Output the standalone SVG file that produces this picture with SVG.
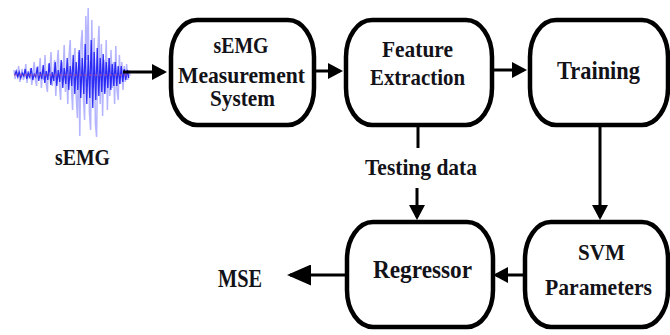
<svg xmlns="http://www.w3.org/2000/svg" width="670" height="335" viewBox="0 0 670 335">
  <style>
    .box { fill: #ffffff; stroke: #000000; stroke-width: 4.5; }
    .lbl { font-family: 'Liberation Serif', 'Times New Roman', serif; font-weight: bold; font-size: 24px; fill: #121218; text-anchor: middle; }
    .wire { fill: none; stroke: #000000; stroke-width: 3; }
  </style>
  <defs>
    <marker id="head" viewBox="0 0 15 16" markerWidth="15" markerHeight="16" refX="12" refY="8" orient="auto" markerUnits="userSpaceOnUse">
      <path d="M0,0 L15,8 L0,16 Z" fill="#000000"/>
    </marker>
    <marker id="headBig" viewBox="0 0 24 21" markerWidth="24" markerHeight="21" refX="21" refY="10.5" orient="auto" markerUnits="userSpaceOnUse">
      <path d="M0,0 L24,10.5 L0,21 Z" fill="#000000"/>
    </marker>
    <filter id="soft" x="-10%" y="-10%" width="120%" height="120%">
      <feGaussianBlur stdDeviation="0.7"/>
    </filter>
  </defs>

  <!-- raw sEMG trace: light spikes, dense core, dashed baseline -->
  <g id="signal" filter="url(#soft)">
    <polyline fill="none" stroke="#5a5aff" stroke-opacity="0.45" stroke-width="1.5"
      points="14,70 15,79 16.2,72 17.4,77 18.6,66 19.8,82 21,74 22.2,69 23.4,80 24.6,75 25.8,64 27,83 28.2,71 29.4,78 30.6,68 31.8,85 33,73 34.2,62 35.4,80 36.6,86 37.8,66 39,74 40.2,58 41.4,88 42.6,70 43.8,80 45,55 46.2,84 47.4,92 48.6,64 49.8,72 51,52 52.2,86 53.4,76 54.6,60 55.8,96 57,66 58.2,50 59.4,84 60.6,100 61.8,62 63,74 64.2,45 65.4,92 66.6,70 67.8,104 69,56 70.2,40 71.4,86 72.6,110 73.8,60 75,48 76.2,96 77.4,118 78.6,52 79.8,136 81,44 82.2,30 83.4,98 84.6,120 85.8,16 87,60 88.2,8 89.4,112 90.6,130 91.8,20 93,88 94.2,38 95.4,124 96.6,137 97.8,50 99,26 100.2,104 101.4,44 102.6,116 103.8,60 105,92 106.2,40 107.4,110 108.6,58 109.8,96 111,50 112.2,88 113.4,62 114.6,104 115.8,46 117,90 118.2,100 119.4,55 120.6,84 121.8,62 123,90 124.2,66 125.4,82 126.6,64 127.8,80 129,70 130,76"/>
    <polyline fill="none" stroke="#1212f2" stroke-opacity="0.85" stroke-width="1.3"
      points="14.8,75 16.2,71 17.8,77 19.2,72 20.8,78 22.2,73 23.8,76 25.2,69 26.8,79 28.2,73 29.8,77 31.2,68 32.8,80 34.2,74 35.8,77 37.2,67 38.8,81 40.2,72 41.8,79 43.2,65 44.8,83 46.2,71 47.8,80 49.2,63 50.8,85 52.2,72 53.8,81 55.2,62 56.8,86 58.2,70 59.8,82 61.2,60 62.8,88 64.2,68 65.8,84 67.2,58 68.8,90 70.2,66 71.8,86 73.2,55 74.8,94 76.2,62 77.8,90 79.2,50 80.8,98 82.2,58 83.8,94 85.2,44 86.8,104 88.2,55 89.8,98 91.2,40 92.8,108 94.2,52 95.8,100 97.2,48 98.8,96 100.2,58 101.8,92 103.2,54 104.8,94 106.2,62 107.8,88 109.2,58 110.8,90 112.2,64 113.8,86 115.2,62 116.8,86 118.2,66 119.8,84 121.2,66 122.8,82 124.2,69 125.8,80 127.2,70 128.8,78"/>
    <line x1="14" y1="75" x2="128" y2="75" stroke="#b050a0" stroke-width="1" stroke-dasharray="3 2"/>
  </g>

  <!-- connectors -->
  <g id="connectors">
    <path class="wire" d="M123,72 L164,72" marker-end="url(#head)"/>
    <path class="wire" d="M316,71 L340,71" marker-end="url(#head)"/>
    <path class="wire" d="M494,70 L524,70" marker-end="url(#head)"/>
    <path class="wire" d="M418,127 L418,148"/>
    <path class="wire" d="M417,188 L417,217" marker-end="url(#head)"/>
    <path class="wire" d="M600,127 L600,217" marker-end="url(#head)"/>
    <path class="wire" d="M524,275 L496,275" marker-end="url(#head)"/>
    <path class="wire" d="M346,275 L290,275" marker-end="url(#headBig)"/>
  </g>

  <g id="node-semg-label">
    <text class="lbl" x="82.5" y="165" textLength="55" lengthAdjust="spacingAndGlyphs">sEMG</text>
  </g>

  <g id="node-measurement">
    <rect class="box" x="171" y="20" width="143" height="105" rx="26" ry="37"/>
    <text class="lbl" x="241" y="53" style="font-size:23px" textLength="55" lengthAdjust="spacingAndGlyphs">sEMG</text>
    <text class="lbl" x="241.5" y="83" style="font-size:23px" textLength="127" lengthAdjust="spacingAndGlyphs">Measurement</text>
    <text class="lbl" x="242.5" y="106" style="font-size:23px" textLength="65" lengthAdjust="spacingAndGlyphs">System</text>
  </g>

  <g id="node-feature">
    <rect class="box" x="346" y="20" width="146" height="105" rx="26" ry="37"/>
    <text class="lbl" x="417.5" y="57" textLength="71" lengthAdjust="spacingAndGlyphs">Feature</text>
    <text class="lbl" x="417.5" y="85" textLength="95" lengthAdjust="spacingAndGlyphs">Extraction</text>
  </g>

  <g id="node-training">
    <rect class="box" x="530" y="20" width="138" height="105" rx="26" ry="37"/>
    <text class="lbl" x="598.5" y="79" style="font-size:25px" textLength="83" lengthAdjust="spacingAndGlyphs">Training</text>
  </g>

  <g id="node-testing">
    <text class="lbl" x="421" y="175" textLength="112" lengthAdjust="spacingAndGlyphs">Testing data</text>
  </g>

  <g id="node-regressor">
    <rect class="box" x="347" y="222" width="146" height="105" rx="26" ry="37"/>
    <text class="lbl" x="422.5" y="278" style="font-size:25px" textLength="99" lengthAdjust="spacingAndGlyphs">Regressor</text>
  </g>

  <g id="node-svm">
    <rect class="box" x="525" y="222" width="143" height="105" rx="26" ry="37"/>
    <text class="lbl" x="601.5" y="260" textLength="47" lengthAdjust="spacingAndGlyphs">SVM</text>
    <text class="lbl" x="598.5" y="295" textLength="107" lengthAdjust="spacingAndGlyphs">Parameters</text>
  </g>

  <g id="node-mse">
    <text class="lbl" x="240" y="287" style="font-size:25px" textLength="44" lengthAdjust="spacingAndGlyphs">MSE</text>
  </g>
</svg>
